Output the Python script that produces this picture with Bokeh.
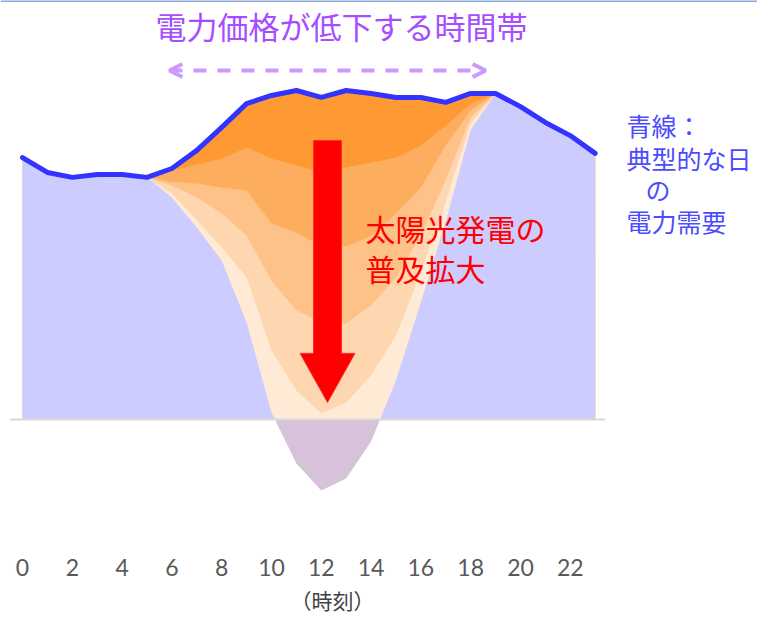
import numpy as np
from bokeh.plotting import figure
from bokeh.models import Range1d, FixedTicker, Arrow, OpenHead, Span, Title
from bokeh.core.properties import value
from bokeh.embed import file_html
from bokeh.resources import INLINE

# Hourly electricity demand on a typical day (percent of daily peak)
hours = list(range(24))
demand = [79.6, 75.1, 73.6, 74.5, 74.5, 73.6, 76.3, 81.8, 88.8, 96.0, 98.5, 100.0,
          97.9, 100.0, 99.1, 97.9, 97.9, 96.4, 99.1, 99.1, 95.1, 90.3, 86.3, 80.9]

# Net demand (demand minus solar output) for growing levels of solar, hours 5..19
solar_hours = list(range(5, 20))
net_demand_1 = [73.6, 75.7, 77.5, 79.3, 82.7, 79.3, 77.2, 75.1, 76.6, 78.1, 79.6, 83.3, 89.4, 96.0, 99.1]
net_demand_2 = [73.6, 72.3, 71.7, 70.5, 69.6, 59.6, 56.8, 52.9, 52.6, 55.9, 62.6, 70.5, 83.3, 93.9, 99.1]
net_demand_3 = [73.6, 71.1, 67.5, 62.6, 55.9, 42.2, 33.1, 29.5, 29.2, 34.7, 43.2, 55.9, 72.9, 91.8, 99.1]
net_demand_4 = [73.6, 68.7, 60.5, 52.3, 43.2, 21.0, 8.8, 1.8, 5.2, 13.4, 25.5, 44.7, 66.3, 90.0, 99.1]
net_demand_5 = [73.6, 67.5, 58.4, 48.3, 29.5, 2.1, -13.4, -21.6, -17.9, -6.7, 11.9, 35.6, 60.2, 88.1, 99.1]

tick_hours = list(range(0, 23, 2))
tick_labels = [str(h) for h in tick_hours]

title_text = "電力価格が低下する時間帯"
legend_lines = ["青線：", "典型的な日", "の", "電力需要"]
solar_lines = ["太陽光発電の", "普及拡大"]
axis_title = "（時刻）"

layer_colors = ["#FF9933", "#FDAD5E", "#FEC187", "#FED6AF", "#FFEAD6"]
fill_blue = "#CCCCFF"
fill_purple = "#D6C3DA"
line_blue = "#3333FF"

hrs = np.array(hours, dtype=float)
base = np.array(demand, dtype=float)


def full_day(net):
    arr = base.copy()
    arr[solar_hours[0]:solar_hours[-1] + 1] = net
    return arr


def with_zero_crossings(x, y):
    xs, ys = [x[0]], [y[0]]
    for i in range(1, len(x)):
        if (y[i - 1] > 0) != (y[i] > 0) and y[i] != 0 and y[i - 1] != 0:
            t = y[i - 1] / (y[i - 1] - y[i])
            xs.append(x[i - 1] + t * (x[i] - x[i - 1]))
            ys.append(0.0)
        xs.append(x[i])
        ys.append(y[i])
    return np.array(xs), np.array(ys)


p = figure(width=757, height=619, output_backend="svg", toolbar_location=None,
           x_range=Range1d(-0.884, 29.52), y_range=Range1d(-36.47, 127.36),
           y_axis_location=None, min_border=0, min_border_bottom=80)
p.min_border_left = 0
p.min_border_right = 0
p.min_border_top = 0
p.outline_line_color = None
p.grid.visible = False
p.background_fill_color = "white"
p.border_fill_color = "white"

# Nested net-demand layers, deepest last
curves = [base] + [full_day(n) for n in (net_demand_1, net_demand_2, net_demand_3, net_demand_4)]
for curve, col in zip(curves, layer_colors):
    p.varea(x=hrs, y1=0, y2=curve, fill_color=col)

# Remaining demand with the most solar: above zero in blue, surplus below zero in purple
xs5, ys5 = with_zero_crossings(hrs, full_day(net_demand_5))
p.varea(x=xs5, y1=0, y2=np.maximum(ys5, 0), fill_color=fill_blue)
p.varea(x=xs5, y1=np.minimum(ys5, 0), y2=0, fill_color=fill_purple)

# Zero line
p.line(x=[-0.5, 23.4], y=[0, 0], line_color="#D9D9D9", line_width=2)

# Typical daily demand
p.line(x=hrs, y=base, line_color=line_blue, line_width=5, line_join="round", line_cap="round")

# Red arrow showing the spread of solar power
ax, shaft_half, head_half = 12.25, 0.56, 1.1
shaft_top, head_base, tip = 84.8, 20.1, 5.2
p.patch(x=[ax - shaft_half, ax + shaft_half, ax + shaft_half, ax + head_half, ax,
           ax - head_half, ax - shaft_half],
        y=[shaft_top, shaft_top, head_base, head_base, tip, head_base, head_base],
        fill_color="#FF0000", line_color="#FF2A2A", line_width=1)

# Dashed double arrow for the low-price period
p.add_layout(Arrow(x_start=5.9, x_end=18.6, y_start=106.1, y_end=106.1,
                   line_color="#CC99FF", line_width=4, line_dash="13 11",
                   start=OpenHead(size=13, line_color="#CC99FF", line_width=4),
                   end=OpenHead(size=13, line_color="#CC99FF", line_width=4)))

jp = value("Noto Sans CJK JP")
p.text(x=[12.81], y=[119.8], text=[title_text], text_font=jp, text_font_size="31px",
       text_color="#A64DFF", text_align="center", text_baseline="middle")

p.text(x=[24.26, 24.26, 25.02, 24.26], y=[89.4, 79.6, 70.2, 60.2], text=legend_lines,
       text_font=jp, text_font_size="25px", text_color="#4B4BFF",
       text_align="left", text_baseline="middle")

p.text(x=[13.78, 13.78], y=[58.1, 46.2], text=solar_lines, text_font=jp,
       text_font_size="30px", text_color="#FF0000", text_align="left", text_baseline="middle")

p.add_layout(Span(location=127.2, dimension="width", line_color="#8EA9DB", line_width=2))

ax_x = p.xaxis[0]
ax_x.ticker = FixedTicker(ticks=tick_hours)
ax_x.major_label_overrides = dict(zip(tick_hours, tick_labels))
ax_x.axis_line_color = None
ax_x.major_tick_line_color = None
ax_x.minor_tick_line_color = None
ax_x.major_label_text_font = "Lato"
ax_x.major_label_text_font_size = "23px"
ax_x.major_label_text_color = "#595959"
ax_x.major_label_standoff = 13

# Hour caption under the tick labels
p.add_layout(Title(text=axis_title, align="left", offset=290, standoff=8,
                   text_font="Noto Sans CJK JP", text_font_size="21px",
                   text_font_style="normal", text_color="#404040"), "below")

open("out.html", "w").write(file_html(p, INLINE))
